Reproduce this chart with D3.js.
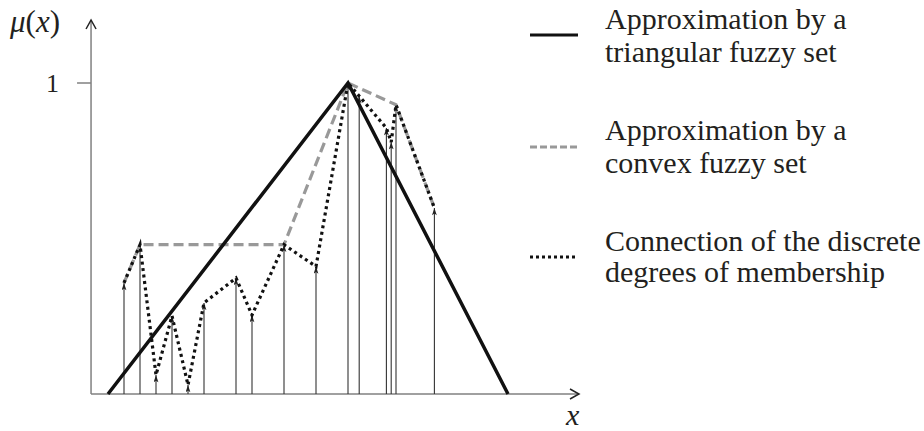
<!DOCTYPE html>
<html><head><meta charset="utf-8">
<script src="https://cdn.jsdelivr.net/npm/d3@7"></script>
<style>body{margin:0;background:#fff}svg{display:block}</style>
</head><body>
<script>
// discrete degrees of membership (x in arbitrary units, mu in [0,1])
const sampleX  = [1, 2, 3, 4, 5, 6, 8, 9, 11, 13, 15, 15.7, 17.4, 17.7, 18, 20.4];
const sampleMu = [0.357, 0.48, 0.061, 0.251, 0.029, 0.293, 0.373, 0.254, 0.48, 0.41, 1.0, 0.958, 0.855, 0.81, 0.93, 0.598];
// convex approximation
const convexX  = [1, 2, 11, 15, 18, 20.4];
const convexMu = [0.357, 0.48, 0.48, 1.0, 0.93, 0.598];
// triangular approximation
const triX  = [0, 15, 25];
const triMu = [0, 1, 0];
const legendLabels = [
  ["Approximation by a", "triangular fuzzy set"],
  ["Approximation by a", "convex fuzzy set"],
  ["Connection of the discrete", "degrees of membership"]
];
const yTicks = [1];

const FONT = "'Liberation Serif'";
const W = 924, H = 431;
const svg = d3.select("body").append("svg").attr("width", W).attr("height", H);
const x = d3.scaleLinear().domain([0, 25]).range([108, 508]);
const y = d3.scaleLinear().domain([0, 1]).range([394, 83]);

const defs = svg.append("defs");
defs.append("marker").attr("id", "tip").attr("viewBox", "0 0 6 10")
  .attr("refX", 3).attr("refY", 0).attr("markerWidth", 5).attr("markerHeight", 8)
  .attr("markerUnits", "userSpaceOnUse").attr("orient", "0")
  .append("path").attr("d", "M0,9 L3,0 L6,9 L3,7 Z").attr("fill", "#222");

function txt(xp, yp, size, s) {
  return svg.append("text").attr("x", xp).attr("y", yp).attr("font-size", size)
    .attr("font-family", FONT).attr("fill", "#231f20").text(s);
}

// axes
const axisColor = "#808080";
const x0 = x(-1.06), yTop = 20, xRight = 579;
svg.append("line").attr("x1", x0).attr("x2", x0).attr("y1", y(0)).attr("y2", yTop)
  .attr("stroke", axisColor).attr("stroke-width", 1.5);
svg.append("line").attr("x1", x0).attr("x2", xRight).attr("y1", y(0)).attr("y2", y(0))
  .attr("stroke", axisColor).attr("stroke-width", 1.5);
svg.append("path").attr("d", `M${x0-5},${yTop+9} L${x0},${yTop} L${x0+5},${yTop+9}`)
  .attr("fill", "none").attr("stroke", "#222").attr("stroke-width", 1.5);
svg.append("path").attr("d", `M${xRight-9},${y(0)-5} L${xRight},${y(0)} L${xRight-9},${y(0)+5}`)
  .attr("fill", "none").attr("stroke", "#222").attr("stroke-width", 1.5);

yTicks.forEach(t => {
  svg.append("line").attr("x1", x0 - 14).attr("x2", x0).attr("y1", y(t)).attr("y2", y(t))
    .attr("stroke", axisColor).attr("stroke-width", 1.5);
  txt(x0 - 45, y(t) + 9, 26, t);
});
const ylab = txt(10, 32, 31, "").attr("font-style", "italic");
ylab.append("tspan").text("μ");
ylab.append("tspan").attr("font-style", "normal").text("(");
ylab.append("tspan").text("x");
ylab.append("tspan").attr("font-style", "normal").text(")");
txt(566, 425, 30, "x").attr("font-style", "italic");

// vertical sample lines
const samples = sampleX.map((v, i) => ({x: v, mu: sampleMu[i]}));
svg.append("g").selectAll("line").data(samples).join("line")
  .attr("x1", d => x(d.x)).attr("x2", d => x(d.x))
  .attr("y1", y(0)).attr("y2", d => y(d.mu))
  .attr("stroke", "#333").attr("stroke-width", 1.1)
  .attr("marker-end", "url(#tip)");

const line = d3.line().x(d => x(d[0])).y(d => y(d[1]));
// convex approx (gray dashed)
svg.append("path").attr("d", line(convexX.map((v, i) => [v, convexMu[i]])))
  .attr("fill", "none").attr("stroke", "#999").attr("stroke-width", 3.2)
  .attr("stroke-dasharray", "10,5");
// dotted connection
svg.append("path").attr("d", line(samples.map(d => [d.x, d.mu])))
  .attr("fill", "none").attr("stroke", "#111").attr("stroke-width", 3.2)
  .attr("stroke-dasharray", "3,3.5");
// triangular
svg.append("path").attr("d", line(triX.map((v, i) => [v, triMu[i]])))
  .attr("fill", "none").attr("stroke", "#111").attr("stroke-width", 3.5);

// legend
const legY = [35, 147, 257];
const legStyles = [
  {stroke: "#111", dash: null},
  {stroke: "#999", dash: "7,3"},
  {stroke: "#111", dash: "3,3"}
];
const textBase = [[29, 62], [140, 173], [251, 282]];
legendLabels.forEach((lab, i) => {
  svg.append("line").attr("x1", 530).attr("x2", 578).attr("y1", legY[i]).attr("y2", legY[i])
    .attr("stroke", legStyles[i].stroke).attr("stroke-width", 3.2)
    .attr("stroke-dasharray", legStyles[i].dash);
  lab.forEach((s, j) => txt(605, textBase[i][j], 30, s));
});
</script>
</body></html>
